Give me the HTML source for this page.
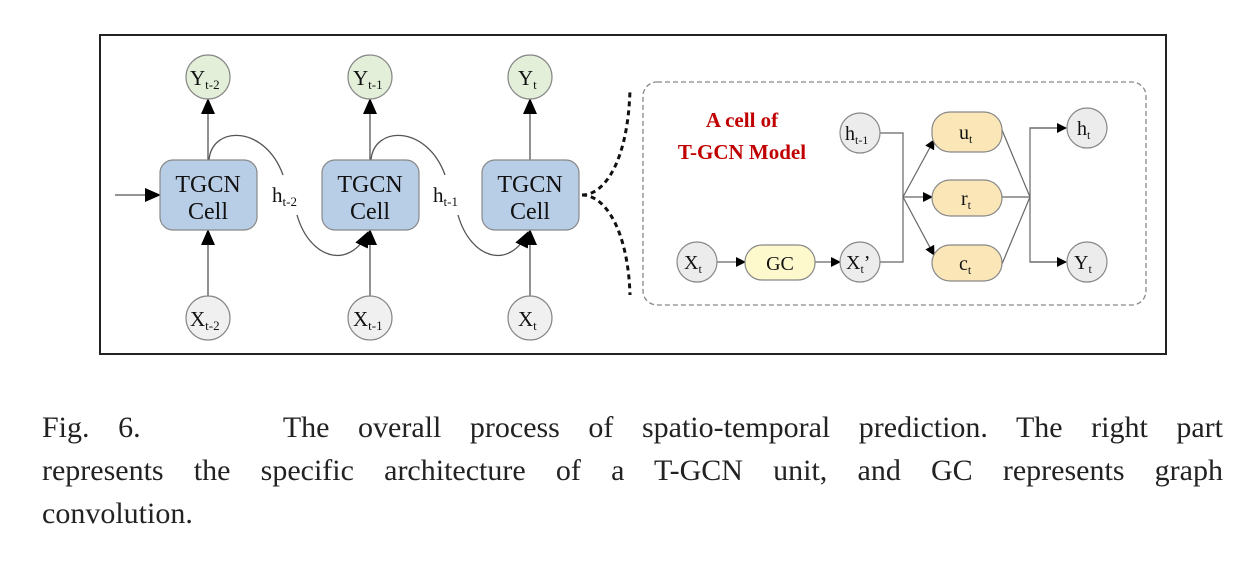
<!DOCTYPE html>
<html><head><meta charset="utf-8"><style>
body{margin:0;background:#fff;width:1241px;height:584px;overflow:hidden;position:relative;font-family:"Liberation Serif",serif}
#cap{position:absolute;left:42px;top:406px;width:1181px;font-size:30px;line-height:43px;color:#222}
#cap div{text-align:justify;text-align-last:justify;white-space:nowrap}
#cap div.l{text-align-last:left}
</style></head><body>
<svg width="1241" height="400" style="position:absolute;left:0;top:0" font-family="Liberation Serif,serif">
<defs><marker id="a" markerWidth="10" markerHeight="10" refX="9" refY="5" orient="auto" markerUnits="userSpaceOnUse"><path d="M0,0 L10,5 L0,10z" fill="#000"/></marker>
<marker id="b" markerWidth="16" markerHeight="14" refX="15" refY="7" orient="auto" markerUnits="userSpaceOnUse"><path d="M0,0 L16,7 L0,14z" fill="#000"/></marker></defs>
<rect x="100" y="35" width="1066" height="319" fill="none" stroke="#222" stroke-width="2"/>
<g stroke="#555" stroke-width="1.3" fill="none">
<line x1="115" y1="195" x2="160" y2="195" marker-end="url(#b)"/>
<g id="c">
<line x1="208" y1="296" x2="208" y2="230" marker-end="url(#b)"/>
<line x1="208" y1="160" x2="208" y2="99" marker-end="url(#b)"/>
</g>
<use href="#c" x="162"/><use href="#c" x="322"/>
<path d="M209,160 C212,125 265,125 283,175"/>
<path d="M297,215 C310,260 350,270 368,232" marker-end="url(#b)"/>
<path d="M371,160 C374,125 427,125 445,175"/>
<path d="M458,215 C471,260 510,270 528,232" marker-end="url(#b)"/>
</g>
<g stroke="#888" stroke-width="1.2">
<rect x="160" y="160" width="97" height="70" rx="13" fill="#b8cde6"/>
<rect x="322" y="160" width="97" height="70" rx="13" fill="#b8cde6"/>
<rect x="482" y="160" width="97" height="70" rx="13" fill="#b8cde6"/>
<circle cx="208" cy="77" r="22" fill="#e3efd9"/><circle cx="370" cy="77" r="22" fill="#e3efd9"/><circle cx="530" cy="77" r="22" fill="#e3efd9"/>
<circle cx="208" cy="318" r="22" fill="#f0f0f0"/><circle cx="370" cy="318" r="22" fill="#f0f0f0"/><circle cx="530" cy="318" r="22" fill="#f0f0f0"/>
</g>
<g font-size="24" text-anchor="middle" fill="#111">
<text x="208" y="192">TGCN</text><text x="208" y="219">Cell</text>
<text x="370" y="192">TGCN</text><text x="370" y="219">Cell</text>
<text x="530" y="192">TGCN</text><text x="530" y="219">Cell</text>
</g>
<g font-size="21" fill="#111">
<text x="190" y="85">Y<tspan font-size="13" dy="4">t-2</tspan></text><text x="353" y="85">Y<tspan font-size="13" dy="4">t-1</tspan></text><text x="518" y="85">Y<tspan font-size="13" dy="4">t</tspan></text>
<text x="190" y="326">X<tspan font-size="13" dy="4">t-2</tspan></text><text x="353" y="326">X<tspan font-size="13" dy="4">t-1</tspan></text><text x="518" y="326">X<tspan font-size="13" dy="4">t</tspan></text>
<text x="272" y="202">h<tspan font-size="13" dy="4">t-2</tspan></text><text x="433" y="202">h<tspan font-size="13" dy="4">t-1</tspan></text>
</g>
<path d="M582,195 C605,195 628,160 630,90 M582,195 C605,195 628,230 630,295" stroke="#111" stroke-width="3" stroke-dasharray="5,4" fill="none"/>
<rect x="643" y="82" width="503" height="223" rx="14" fill="none" stroke="#888" stroke-width="1.3" stroke-dasharray="5,3"/>
<text x="742" y="127" font-size="21" font-weight="bold" fill="#c00000" text-anchor="middle">A cell of</text>
<text x="742" y="159" font-size="21" font-weight="bold" fill="#c00000" text-anchor="middle">T-GCN Model</text>
<g stroke="#666" stroke-width="1.2" fill="none">
<polyline points="880,133 903,133 903,262 880,262"/>
<line x1="717" y1="262" x2="745" y2="262" marker-end="url(#a)"/>
<line x1="815" y1="262" x2="840" y2="262" marker-end="url(#a)"/>
<line x1="903" y1="197" x2="934" y2="140" marker-end="url(#a)"/>
<line x1="903" y1="197" x2="932" y2="197" marker-end="url(#a)"/>
<line x1="903" y1="197" x2="934" y2="255" marker-end="url(#a)"/>
<line x1="1002" y1="130" x2="1030" y2="197"/>
<line x1="1002" y1="197" x2="1030" y2="197"/>
<line x1="1002" y1="264" x2="1030" y2="197"/>
<polyline points="1066,128 1030,128 1030,262 1066,262"/>
<line x1="1030" y1="128" x2="1066" y2="128" marker-end="url(#a)"/>
<line x1="1030" y1="262" x2="1066" y2="262" marker-end="url(#a)"/>
</g>
<g stroke="#888" stroke-width="1.2">
<circle cx="860" cy="133" r="20" fill="#ececec"/><circle cx="697" cy="262" r="20" fill="#ececec"/><circle cx="860" cy="262" r="20" fill="#ececec"/>
<circle cx="1087" cy="128" r="20" fill="#ececec"/><circle cx="1087" cy="262" r="20" fill="#ececec"/>
<rect x="745" y="245" width="70" height="35" rx="17" fill="#fdf9cc"/>
<rect x="932" y="112" width="70" height="40" rx="18" fill="#fbe6b8"/>
<rect x="932" y="180" width="70" height="36" rx="18" fill="#fbe6b8"/>
<rect x="932" y="245" width="70" height="36" rx="18" fill="#fbe6b8"/>
</g>
<g font-size="20" fill="#111">
<text x="845" y="140">h<tspan font-size="12" dy="4">t-1</tspan></text>
<text x="684" y="269">X<tspan font-size="12" dy="4">t</tspan></text>
<text x="846" y="269">X<tspan font-size="12" dy="4">t</tspan><tspan dy="-4">’</tspan></text>
<text x="780" y="270" text-anchor="middle">GC</text>
<text x="959" y="139">u<tspan font-size="12" dy="4">t</tspan></text>
<text x="961" y="205">r<tspan font-size="12" dy="4">t</tspan></text>
<text x="959" y="270">c<tspan font-size="12" dy="4">t</tspan></text>
<text x="1077" y="135">h<tspan font-size="12" dy="4">t</tspan></text>
<text x="1074" y="269">Y<tspan font-size="12" dy="4">t</tspan></text>
</g>
</svg>
<div id="cap">
<div>Fig. 6.&nbsp;&nbsp;&nbsp;&nbsp; The overall process of spatio-temporal prediction. The right part</div>
<div>represents the specific architecture of a T-GCN unit, and GC represents graph</div>
<div class="l">convolution.</div>
</div>
</body></html>
